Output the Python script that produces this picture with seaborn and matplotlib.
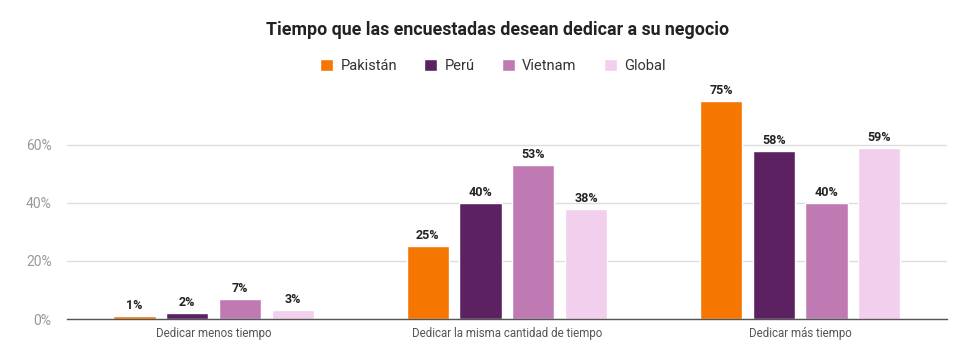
import pandas as pd
import numpy as np
import matplotlib.pyplot as plt
import seaborn as sns

# --- Data ---
categories = ['Dedicar menos tiempo', 'Dedicar la misma cantidad de tiempo', 'Dedicar más tiempo']
countries = ['Pakistán', 'Perú', 'Vietnam', 'Global']
pakistan = [1, 25, 75]
peru = [2, 40, 58]
vietnam = [7, 53, 40]
global_ = [3, 38, 59]
colors = ['#F57600', '#5C2160', '#BF7AB3', '#F2CFEC']

df = pd.DataFrame({
    'Categoria': categories * 4,
    'Pais': np.repeat(countries, 3),
    'Valor': pakistan + peru + vietnam + global_,
})

sns.set_style('white')
plt.rcParams['font.family'] = ['Roboto', 'DejaVu Sans']

fig = plt.figure(figsize=(9.75, 3.55), dpi=100)
ax = fig.add_axes([0.0687, 0.1014, 0.9023, 0.654])

sns.barplot(data=df, x='Categoria', y='Valor', hue='Pais', order=categories,
            hue_order=countries, palette=colors, width=0.72, gap=0.2,
            saturation=1, ax=ax, legend=True)

for cont in ax.containers:
    ax.bar_label(cont, labels=[f'{v:.0f}%' for v in cont.datavalues], padding=3,
                 fontsize=9, fontweight='bold', color='#222222')

ax.set_ylim(0, 80)
ax.set_xlim(-0.5, 2.5)
ax.set_yticks([0, 20, 40, 60])
ax.set_yticklabels(['0%', '20%', '40%', '60%'], color='#999999', fontsize=10)
ax.tick_params(axis='y', length=0, pad=11)
ax.tick_params(axis='x', length=0, pad=6, labelsize=8.3, labelcolor='#555555')
ax.set_xlabel('')
ax.set_ylabel('')
ax.yaxis.grid(True, color='#DDDDDD', linewidth=1)
ax.set_axisbelow(True)
for s in ['top', 'right', 'left']:
    ax.spines[s].set_visible(False)
ax.spines['bottom'].set_color('#555555')
ax.spines['bottom'].set_linewidth(1)

leg = ax.legend(loc='center', bbox_to_anchor=(0.484, 1.09), ncol=4, frameon=False,
                fontsize=10.5, handlelength=0.9, handleheight=0.9,
                columnspacing=1.85, handletextpad=0.5)
for t in leg.get_texts():
    t.set_color('#333333')

fig.text(0.51, 0.915, 'Tiempo que las encuestadas desean dedicar a su negocio',
         ha='center', va='center', fontsize=12.8, fontweight='bold', color='#222222')

fig.savefig('out.png', dpi=100)
